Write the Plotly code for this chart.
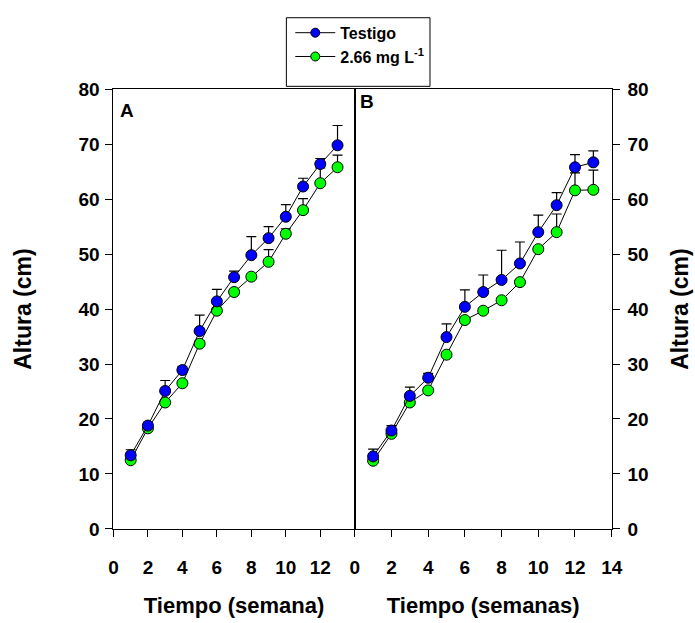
import plotly.graph_objects as go

weeks = [1, 2, 3, 4, 5, 6, 7, 8, 9, 10, 11, 12, 13]

a_testigo = [13.4, 18.8, 25.1, 28.9, 36.0, 41.4, 45.8, 49.8, 52.9, 56.8, 62.3, 66.4, 69.8]
a_testigo_err = [1.0, 0.6, 1.9, 0.7, 2.9, 2.2, 1.1, 3.4, 2.1, 2.2, 1.5, 1.0, 3.6]
a_dosis = [12.5, 18.3, 23.0, 26.5, 33.7, 39.7, 43.1, 45.9, 48.6, 53.7, 58.0, 62.9, 65.8]
a_dosis_err = [0.5, 0.4, 0.5, 0.4, 0.5, 0.5, 0.4, 0.4, 2.2, 0.9, 2.1, 2.8, 2.2]

b_testigo = [13.2, 17.9, 24.2, 27.5, 34.9, 40.4, 43.1, 45.3, 48.3, 54.0, 58.9, 65.8, 66.7]
b_testigo_err = [1.3, 0.9, 1.6, 0.8, 2.4, 3.1, 3.1, 5.4, 3.9, 3.1, 2.3, 2.3, 2.1]
b_dosis = [12.4, 17.3, 23.0, 25.2, 31.7, 38.0, 39.7, 41.6, 44.9, 50.9, 54.0, 61.6, 61.7]
b_dosis_err = [0.4, 0.4, 0.4, 0.4, 0.4, 0.4, 0.4, 0.4, 0.4, 0.4, 3.3, 3.2, 3.6]

y_ticks = [0, 10, 20, 30, 40, 50, 60, 70, 80]
xa_ticks = [0, 2, 4, 6, 8, 10, 12]
xb_ticks = [0, 2, 4, 6, 8, 10, 12, 14]

series_names = ["Testigo", "2.66 mg L<sup>-1</sup>"]
colors = ["#0000FF", "#00FF00"]

FONT = "Liberation Sans, Arial"

fig = go.Figure()


def add(x, y, err, name, color, xa, ya, show):
    fig.add_trace(go.Scatter(
        x=x, y=y, mode="lines+markers", name=name,
        xaxis=xa, yaxis=ya, showlegend=show,
        line=dict(color="black", width=1),
        marker=dict(color=color, size=11, line=dict(color="black", width=1)),
        error_y=dict(type="data", array=err, arrayminus=[0] * len(err),
                     symmetric=False, color="black", thickness=1.2, width=5),
    ))


add(weeks, a_dosis, a_dosis_err, series_names[1], colors[1], "x", "y", False)
add(weeks, a_testigo, a_testigo_err, series_names[0], colors[0], "x", "y", False)
add(weeks, b_dosis, b_dosis_err, series_names[1], colors[1], "x2", "y2", False)
add(weeks, b_testigo, b_testigo_err, series_names[0], colors[0], "x2", "y2", False)

# legend-only entries in the right order
for name, color in zip(series_names, colors):
    fig.add_trace(go.Scatter(
        x=[None], y=[None], mode="lines+markers", name=name,
        line=dict(color="black", width=1),
        marker=dict(color=color, size=9, line=dict(color="black", width=1)),
    ))

W, H = 695, 623
x0a, x1a = 111 / W, 358 / W
x0b, x1b = 358 / W, 621 / W
y0, y1 = 1 - 537 / H, 1 - 82 / H

tickfont = dict(family=FONT, size=19, color="black", weight="bold")
xtitlefont = dict(family=FONT, size=22, color="black", weight="bold")
ytitlefont = dict(family=FONT, size=23, color="black", weight="bold")

common_ax = dict(showline=True, linecolor="black", linewidth=1, mirror=True,
                 ticks="outside", ticklen=7, tickcolor="black",
                 showgrid=False, zeroline=False, tickfont=tickfont)

fig.update_layout(
    width=W, height=H,
    margin=dict(l=0, r=0, t=0, b=0),
    paper_bgcolor="white", plot_bgcolor="white",
    font=dict(family=FONT, color="black"),
    xaxis=dict(domain=[x0a, x1a], range=[0, 14], tickvals=xa_ticks,
               anchor="y", ticklabelstandoff=14,
               title=dict(text="Tiempo (semana)", font=xtitlefont, standoff=20),
               **common_ax),
    yaxis=dict(domain=[y0, y1], range=[0, 80], tickvals=y_ticks, anchor="x",
               ticklabelstandoff=2,
               title=dict(text="Altura (cm)", font=ytitlefont, standoff=40),
               **common_ax),
    xaxis2=dict(domain=[x0b, x1b], range=[0, 14], tickvals=xb_ticks,
                anchor="y2", ticklabelstandoff=14,
                title=dict(text="Tiempo (semanas)", font=xtitlefont, standoff=20),
                **common_ax),
    yaxis2=dict(domain=[y0, y1], range=[0, 80], tickvals=y_ticks, anchor="x2",
                side="right", ticklabelstandoff=4,
                title=dict(text="Altura (cm)", font=ytitlefont, standoff=24),
                **common_ax),
    legend=dict(x=292 / W, y=1 - 6 / H, xanchor="left", yanchor="top",
                borderwidth=0, bgcolor="rgba(0,0,0,0)",
                font=dict(family=FONT, size=16, color="black", weight="bold"),
                tracegroupgap=0, itemwidth=40),
    shapes=[dict(type="rect", xref="paper", yref="paper",
                 x0=288 / W, x1=435 / W, y0=1 - 79 / H, y1=1 - 8 / H,
                 line=dict(color="black", width=1), fillcolor="white", layer="below")],
    annotations=[
        dict(text="<b>A</b>", x=0.057, y=0.952, xref="x domain", yref="y domain",
             xanchor="center", yanchor="middle",
             showarrow=False, font=dict(family=FONT, size=19, color="black")),
        dict(text="<b>B</b>", x=0.046, y=0.972, xref="x2 domain", yref="y2 domain",
             xanchor="center", yanchor="middle",
             showarrow=False, font=dict(family=FONT, size=19, color="black")),
    ],
)

fig.write_html("out.html")
